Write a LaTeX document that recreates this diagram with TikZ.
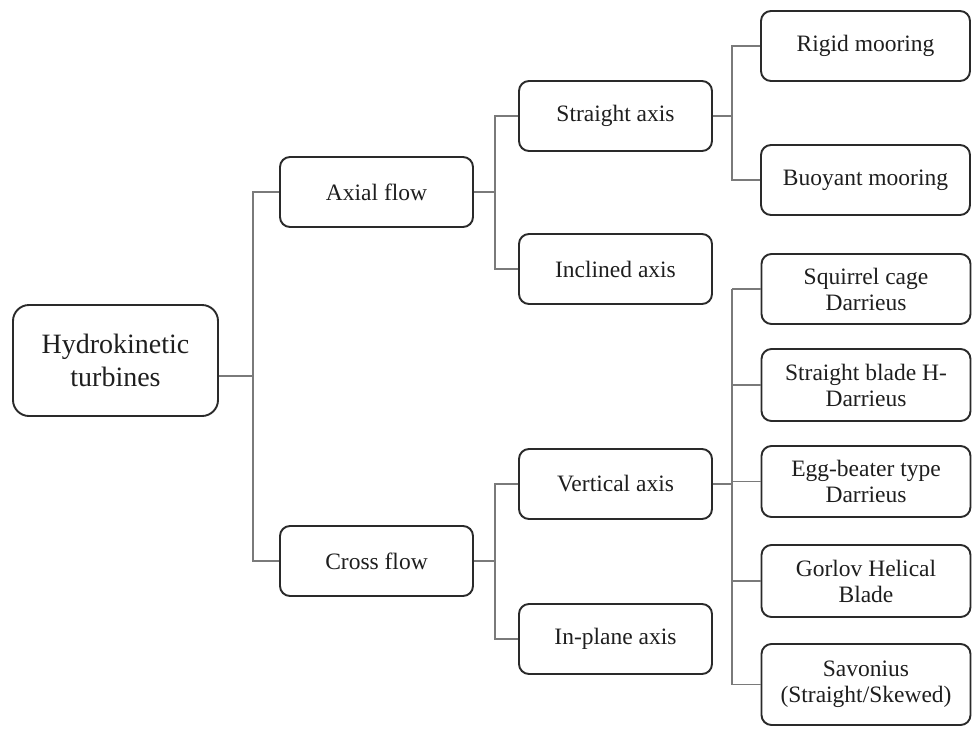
\documentclass[tikz,border=0pt]{standalone}
\usepackage{fontspec}
\setmainfont{Liberation Serif}
\usetikzlibrary{positioning}
\definecolor{ink}{HTML}{1E1E1E}
\definecolor{frame}{HTML}{2A2A2A}
\definecolor{line}{HTML}{7A7A7A}

\begin{document}
\begin{tikzpicture}[
  x=1pt, y=-1pt,
  text=ink,
  box/.style={
    draw=frame,
    line width=1.9pt,
    rounded corners=10pt,
    align=center,
    inner sep=0pt,
    font=\fontsize{23.5}{26}\selectfont,
    minimum width=193pt,
    minimum height=70pt
  },
  rootbox/.style={box, rounded corners=16pt,
    font=\fontsize{28}{33}\selectfont,
    minimum width=205pt, minimum height=111pt},
  leaf/.style={box, minimum width=209pt},
  connector/.style={draw=line, line width=1.4pt}
]
\useasboundingbox (0,0) rectangle (973,728);

% Root and flow types
\node[rootbox] (root) at (115.5,360.5) {Hydrokinetic\\turbines};
\node[box] (axial) at (376.5,192) {Axial flow};
\node[box] (cross) at (376.5,561) {Cross flow};

\coordinate (rootjoin) at (253,376);
\draw[connector] ([yshift=-15.5pt]root.east) -- (rootjoin);
\draw[connector] (axial.west) -| (rootjoin) |- (cross.west);

% Axis arrangements
\node[box] (straight) at (615.5,116) {Straight axis};
\node[box] (inclined) at (615.5,269) {Inclined axis};
\node[box] (vertical) at (615.5,484) {Vertical axis};
\node[box] (inplane) at (615.5,639) {In-plane axis};

\coordinate (axialjoin) at (495,192);
\coordinate (crossjoin) at (495,561);
\draw[connector] (axial.east) -- (axialjoin);
\draw[connector] (straight.west) -| (axialjoin) |- (inclined.west);
\draw[connector] (cross.east) -- (crossjoin);
\draw[connector] (vertical.west) -| (crossjoin) |- (inplane.west);

% Mooring options
\node[leaf] (rigid) at (865.5,46) {Rigid mooring};
\node[leaf] (buoyant) at (865.5,180) {Buoyant mooring};

\coordinate (straightjoin) at (732,116);
\draw[connector] (straight.east) -- (straightjoin);
\draw[connector] (rigid.west) -| (straightjoin) |- (buoyant.west);

% Vertical axis rotors
\node[leaf] (squirrel) at (866,289) {Squirrel cage\\Darrieus};
\node[leaf, minimum height=72pt] (hblade) at (866,385) {Straight blade H-\\Darrieus};
\node[leaf, minimum height=71pt] (eggbeater) at (866,481.5) {Egg-beater type\\Darrieus};
\node[leaf, minimum height=72pt] (gorlov) at (866,581) {Gorlov Helical\\Blade};
\node[leaf, minimum height=81pt] (savonius) at (866,684.5) {Savonius\\(Straight/Skewed)};

\coordinate (vertjoin) at (732,484);
\draw[connector] (vertical.east) -- (vertjoin);
\draw[connector] (squirrel.west -| vertjoin) -- (savonius.west -| vertjoin);
\foreach \leafname in {squirrel,hblade,eggbeater,gorlov,savonius}
  \draw[connector] (\leafname.west) -- (\leafname.west -| vertjoin);

\end{tikzpicture}
\end{document}
